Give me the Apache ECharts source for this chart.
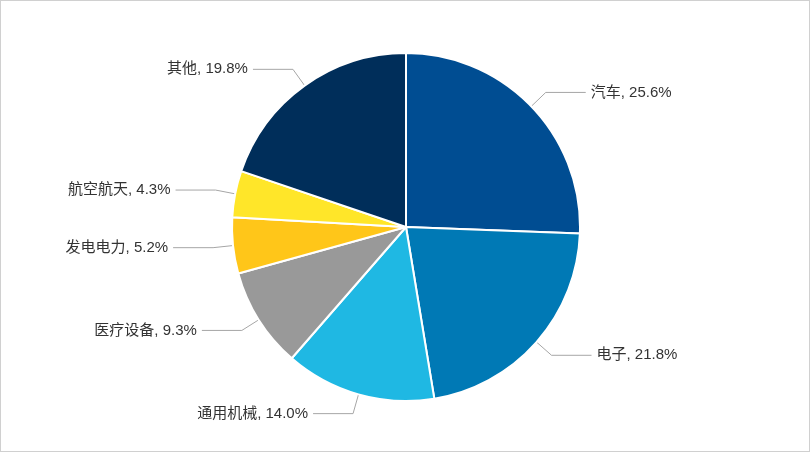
<!DOCTYPE html>
<html>
<head>
<meta charset="utf-8">
<script src="https://cdn.jsdelivr.net/npm/echarts@6/dist/echarts.min.js"></script>
<style>
  html, body { margin: 0; padding: 0; background: #fff; }
  #chart { width: 808px; height: 450px; border: 1px solid #d0d0d0; }
</style>
</head>
<body>
<div id="chart"></div>
<script>
const categories = ['汽车', '电子', '通用机械', '医疗设备', '发电电力', '航空航天', '其他'];
const shares = [25.6, 21.8, 14.0, 9.3, 5.2, 4.3, 19.8];
const colors = ['#004d92', '#0079b5', '#1fb8e3', '#999999', '#ffc619', '#ffe629', '#002e5a'];

const chart = echarts.init(document.getElementById('chart'));
chart.setOption({
  animation: false,
  color: colors,
  series: [{
    type: 'pie',
    center: [405, 226],
    radius: 174,
    startAngle: 90,
    clockwise: true,
    itemStyle: { borderColor: '#fff', borderWidth: 2 },
    label: {
      color: '#333',
      fontSize: 15,
      fontFamily: 'Liberation Sans, Noto Sans CJK SC, sans-serif',
      formatter: (p) => `${p.name}, ${p.value.toFixed(1)}%`,
    },
    labelLine: {
      length: 20,
      length2: 40,
      lineStyle: { color: '#a6a6a6', width: 1 },
    },
    data: categories.map((name, i) => ({ name, value: shares[i] })),
  }],
});
</script>
</body>
</html>
